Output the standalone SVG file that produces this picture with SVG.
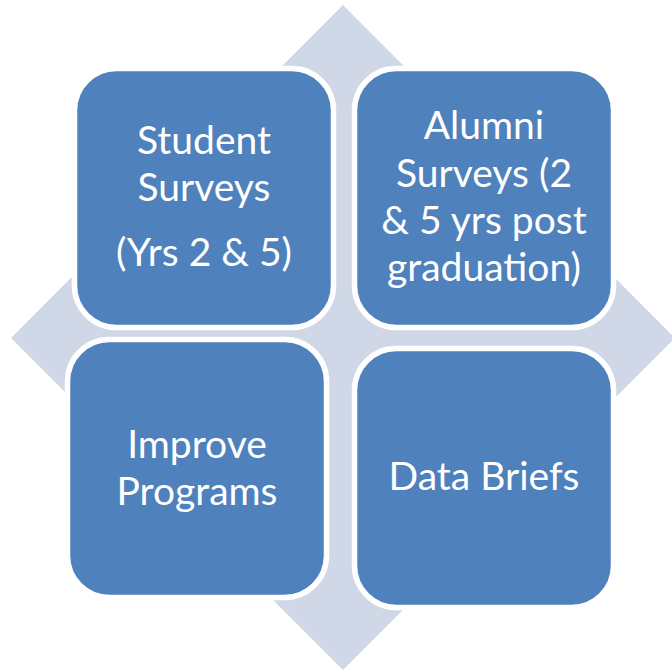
<svg xmlns="http://www.w3.org/2000/svg" width="672" height="671" viewBox="0 0 672 671">
  <style>
    .bg { fill: #D0D8E8; }
    .box { fill: #4F81BD; stroke: #FFFFFF; stroke-width: 5.5; }
    .lbl { fill: #FFFFFF; font-family: Lato, "Open Sans", "Liberation Sans", sans-serif; font-size: 39px; text-anchor: middle; }
  </style>
  <rect width="672" height="671" fill="#FFFFFF"/>
  <!-- background diamond -->
  <polygon class="bg" points="343,5 675,338 343,670 11,338"/>
  <g id="student-surveys">
    <rect class="box" x="74.5" y="68.5" width="259" height="259" rx="42"/>
    <text class="lbl" x="204" y="154">Student</text>
    <text class="lbl" x="204" y="201">Surveys</text>
    <text class="lbl" x="204" y="266">(Yrs 2 &amp; 5)</text>
  </g>
  <g id="alumni-surveys">
    <rect class="box" x="354.5" y="68.5" width="259" height="259" rx="42"/>
    <text class="lbl" x="484" y="139">Alumni</text>
    <text class="lbl" x="484" y="187">Surveys (2</text>
    <text class="lbl" x="484" y="234">&amp; 5 yrs post</text>
    <text class="lbl" x="484" y="281">graduation)</text>
  </g>
  <g id="improve-programs">
    <rect class="box" x="67.5" y="339.5" width="259" height="258" rx="42"/>
    <text class="lbl" x="197" y="458">Improve</text>
    <text class="lbl" x="197" y="505">Programs</text>
  </g>
  <g id="data-briefs">
    <rect class="box" x="354.5" y="348.5" width="259" height="259" rx="42"/>
    <text class="lbl" x="484" y="490">Data Briefs</text>
  </g>
</svg>
